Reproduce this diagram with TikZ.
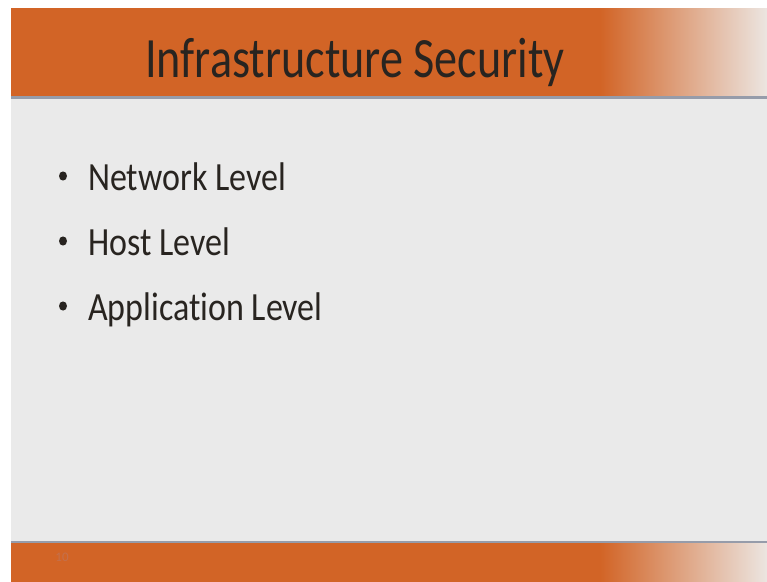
\documentclass[tikz,border=0pt]{standalone}
\usepackage{fontspec}
\setmainfont[Ligatures=NoCommon]{Carlito}
\usetikzlibrary{positioning}
\definecolor{barorange}{RGB}{210,100,38}
\definecolor{barfade}{RGB}{236,230,226}
\definecolor{pagegray}{RGB}{234,234,234}
\definecolor{rulegray}{RGB}{150,156,170}
\definecolor{inkdark}{RGB}{40,36,32}
\definecolor{pgfaint}{RGB}{196,112,76}
\newcommand{\narrow}[1]{\scalebox{0.81}[1]{#1}}
\newcommand{\narrowitem}[1]{\scalebox{0.85}[1]{#1}}

\begin{document}
\begin{tikzpicture}[x=1pt,y=-1pt,
    title/.style={font=\fontsize{57}{60}\selectfont, text=inkdark, inner sep=0pt, anchor=base},
    item/.style={font=\fontsize{40}{44}\selectfont, text=inkdark, inner sep=0pt, anchor=base west},
    dot/.style={fill=inkdark},
    fade/.style={left color=barorange, right color=barfade}]
  \clip (0,0) rectangle (767,581);
  \useasboundingbox (0,0) rectangle (767,581);
  \fill[white] (0,0) rectangle (767,581);
  % slide body
  \fill[pagegray] (11,99) rectangle (767,542);
  % title bar
  \fill[barorange] (11,8) rectangle (601,96);
  \shade[fade] (600,8) rectangle (768,96);
  \fill[rulegray] (11,96) rectangle (767,99);
  % footer bar
  \fill[rulegray] (11,541) rectangle (767,543);
  \fill[barorange] (11,543) rectangle (601,583);
  \shade[fade] (600,543) rectangle (768,583);

  \node[title] (head) at (355,77) {\narrow{Infrastructure Security}};

  \node[item] (net) at (88,190) {\narrowitem{Network Level}};
  \node[item, below=65pt of net.base west, anchor=base west] (host) {\narrowitem{Host Level}};
  \node[item, below=65pt of host.base west, anchor=base west] (app) {\narrowitem{Application Level}};
  \foreach \n in {net,host,app}
    \fill[dot] ([xshift=-25pt,yshift=14pt]\n.base west) ellipse (4pt and 4.6pt);

  \node[font=\fontsize{13}{14}\selectfont, text=pgfaint, inner sep=0pt] (pg) at (62,557) {10};
\end{tikzpicture}
\end{document}
